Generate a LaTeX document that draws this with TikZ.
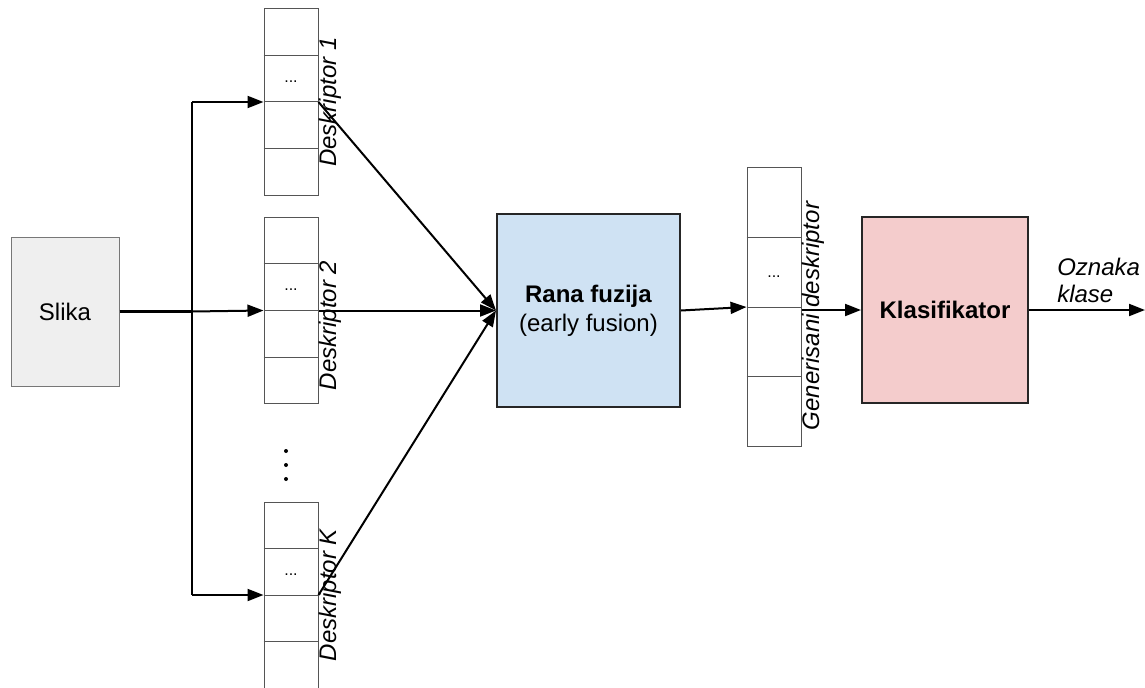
\documentclass[tikz,border=0pt]{standalone}
\usepackage{fontspec}
\setmainfont{Liberation Sans}
\usetikzlibrary{arrows.meta,calc}

\definecolor{slikagray}{HTML}{EFEFEF}
\definecolor{fusionblue}{HTML}{CFE2F3}
\definecolor{klaspink}{HTML}{F4CCCC}
\definecolor{edgegray}{HTML}{555555}

\begin{document}
\begin{tikzpicture}[x=0.75pt,y=0.75pt,yscale=-1,xscale=1,
    txt/.style={font=\fontsize{18}{21.6}\selectfont},
    stack/.style={draw=edgegray, line width=0.75pt, minimum width=40.5pt, inner sep=0pt},
    cell/.style={draw=edgegray, line width=0.75pt},
    vlabel/.style={font=\fontsize{18}{21.6}\selectfont\itshape, rotate=90, anchor=north, inner sep=0pt},
    dots/.style={font=\fontsize{12}{14}\selectfont, inner sep=0pt},
    conn/.style={line width=1.5pt},
    arr/.style={line width=1.5pt, -{Triangle[length=12pt,width=9pt]}}]

    \useasboundingbox (0,0) rectangle (1145,688);

    % Boxes
    \node [txt, draw=edgegray!80, line width=0.75pt, fill=slikagray, minimum width=81pt, minimum height=111.75pt] (slika) at (65,311.5) {Slika};
    \node [txt, draw=black!85, line width=1.5pt, fill=fusionblue, minimum width=137.25pt, minimum height=144.75pt, align=center] (fusion) at (588.5,310.5) {\textbf{Rana fuzija}\\(early fusion)};
    \node [txt, draw=black!85, line width=1.5pt, fill=klaspink, minimum width=124.5pt, minimum height=139.5pt] (klas) at (945,310) {\textbf{Klasifikator}};

    % Descriptor stacks
    \node [stack, minimum height=139.5pt] (d1) at (291,102) {};
    \node [stack, minimum height=139.5pt] (d2) at (291,310.5) {};
    \node [stack, minimum height=139.5pt] (dK) at (291,595) {};
    \node [stack, minimum height=208.5pt] (gen) at (774,307) {};

    \foreach \s in {d1,d2,dK,gen} {
        \foreach \k in {1,2,3}
            \draw [cell] ($(\s.north west)!\k/4!(\s.south west)$) -- ($(\s.north east)!\k/4!(\s.south east)$);
        \node [dots] (\s-dots) at ($(\s.north)!0.39!(\s.south)$) {...};
    }

    % Labels
    \node [vlabel] (d1-lbl) at (d1.east) {Deskriptor 1};
    \node [vlabel] (d2-lbl) at ($(d2.east)+(0,15)$) {Deskriptor 2};
    \node [vlabel] (dK-lbl) at (dK.east) {Deskriptor K};
    \node [vlabel] (gen-lbl) at ($(gen.east)+(0,9)$) {Generisani deskriptor};
    \node [txt, font=\fontsize{18}{20.25}\selectfont\itshape, anchor=south west, inner sep=0pt, align=left] (oznaka) at (1057,303) {Oznaka\\klase};

    % vertical dots
    \foreach \y in {451,465,479}
        \fill (286,\y) circle (2);

    % Connectors
    \coordinate (split) at (192,311.5);
    \coordinate (out) at (1145,310);
    \draw [conn, line width=2.25pt] (slika.east) -- (split);
    \draw [conn] (split |- d1.west) -- (split |- dK.west);
    \draw [arr] (split |- d1.west) -- (d1.west);
    \draw [arr] (split) -- (d2.west);
    \draw [arr] (split |- dK.west) -- (dK.west);
    \draw [arr] (d1.east) -- (fusion.west);
    \draw [arr] (d2.east) -- (fusion.west);
    \draw [arr] (dK.east) -- (fusion.west);
    \draw [arr] (fusion.east) -- (gen.west);
    \draw [arr] (gen.east |- klas.west) -- (klas.west);
    \draw [arr] (klas.east) -- (out);

\end{tikzpicture}
\end{document}
